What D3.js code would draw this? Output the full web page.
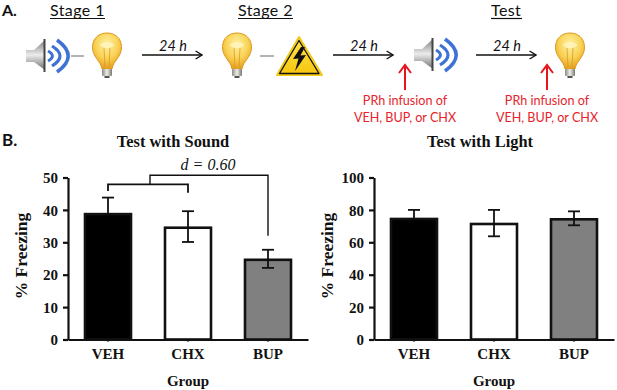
<!DOCTYPE html>
<html>
<head>
<meta charset="utf-8">
<script src="https://d3js.org/d3.v7.min.js"></script>
<style>
  html, body { margin:0; padding:0; background:#fff; }
  text { fill:#111; }
  .serif { font-family:"Liberation Serif", serif; font-weight:bold; }
  .sans { font-family:Lato, sans-serif; }
</style>
</head>
<body>
<div id="fig"></div>
<script>
var groups = ["VEH", "CHX", "BUP"];
var barColors = ["#000000", "#ffffff", "#808080"];

var soundMeans = [38.7, 34.5, 24.6];
var soundUpper = [43.8, 39.6, 27.7];
var soundLower = [38.7, 30.1, 22.1];
var soundTicks = [0, 10, 20, 30, 40, 50];

var lightMeans = [74.4, 71.3, 74.2];
var lightUpper = [80, 80, 79.1];
var lightLower = [74.4, 63.7, 70.5];
var lightTicks = [0, 20, 40, 60, 80, 100];

var fullWidth = 617;
var fullHeight = 390;

var svg = d3.select("#fig")
  .append("svg")
  .attr("width", fullWidth)
  .attr("height", fullHeight)
  .style("display", "block");

var defs = svg.append("defs");

var bulbGrad = defs.append("radialGradient").attr("id", "bulbGrad")
  .attr("cx", "0.5").attr("cy", "0.32").attr("r", "0.7");
bulbGrad.append("stop").attr("offset", "0").attr("stop-color", "#fff2a6");
bulbGrad.append("stop").attr("offset", "0.55").attr("stop-color", "#f9d255");
bulbGrad.append("stop").attr("offset", "1").attr("stop-color", "#e39a1c");

var baseGrad = defs.append("linearGradient").attr("id", "baseGrad");
baseGrad.append("stop").attr("offset", "0").attr("stop-color", "#8a8a86");
baseGrad.append("stop").attr("offset", "0.5").attr("stop-color", "#efefe8");
baseGrad.append("stop").attr("offset", "1").attr("stop-color", "#77776f");

var coneGrad = defs.append("linearGradient").attr("id", "coneGrad")
  .attr("x1", "0").attr("x2", "0").attr("y1", "0").attr("y2", "1");
coneGrad.append("stop").attr("offset", "0").attr("stop-color", "#7d7d7d");
coneGrad.append("stop").attr("offset", "0.5").attr("stop-color", "#ececec");
coneGrad.append("stop").attr("offset", "1").attr("stop-color", "#6f6f6f");

var triGrad = defs.append("linearGradient").attr("id", "triGrad")
  .attr("x1", "0").attr("x2", "0").attr("y1", "0").attr("y2", "1");
triGrad.append("stop").attr("offset", "0").attr("stop-color", "#ffe84a");
triGrad.append("stop").attr("offset", "1").attr("stop-color", "#f6c50f");

var arrowHead = defs.append("marker").attr("id", "head")
  .attr("viewBox", "0 0 10 12").attr("refX", 9).attr("refY", 6)
  .attr("markerWidth", 8).attr("markerHeight", 10)
  .attr("markerUnits", "userSpaceOnUse").attr("orient", "auto");
arrowHead.append("path").attr("d", "M1,1 L9,6 L1,11")
  .attr("fill", "none").attr("stroke", "#111").attr("stroke-width", 1.6);

function drawBulb(cx) {
  var g = svg.append("g").attr("transform", "translate(" + cx + ",33)");
  g.append("path")
    .attr("d", "M-5,36 C-6,28 -15,24 -14.5,13.5 C-14,5 -8,0 0,0 C8,0 14,5 14.5,13.5 C15,24 6,28 5,36 Z")
    .attr("fill", "url(#bulbGrad)").attr("stroke", "#dd9a1e").attr("stroke-width", 1);
  g.append("ellipse").attr("cx", 0).attr("cy", 12).attr("rx", 7).attr("ry", 3)
    .attr("fill", "#fff6c4").attr("opacity", 0.75);
  g.append("path").attr("d", "M-3,15 L-2,34 M3,15 L2,34")
    .attr("stroke", "#d9921a").attr("stroke-width", 0.7).attr("fill", "none");
  g.append("rect").attr("x", -5).attr("y", 36).attr("width", 10).attr("height", 7)
    .attr("rx", 1).attr("fill", "url(#baseGrad)");
  g.append("rect").attr("x", -2.5).attr("y", 43).attr("width", 5).attr("height", 2)
    .attr("fill", "#55554f");
}

function drawSpeaker(x, y) {
  var g = svg.append("g").attr("transform", "translate(" + x + "," + y + ")");
  g.append("path").attr("d", "M0,11 L8,11 L19,1 L19,31 L8,23 L0,23 Z")
    .attr("fill", "url(#coneGrad)");
  g.append("path").attr("d", "M18.5,0 L18.5,33")
    .attr("stroke", "#444").attr("stroke-width", 2);
  g.selectAll(".wave")
    .data([[22, 11, 5.5, 3], [26, 6, 10, 3.2], [31, 0, 14, 3.6]])
    .enter().append("path")
    .attr("d", function(d) {
      return "M" + d[0] + "," + (d[1] + 1) + " Q" + (d[0] + d[2] * 1.6) + ",17 " + d[0] + "," + (33 - d[1]);
    })
    .attr("fill", "none").attr("stroke", "#3f72d6").attr("stroke-width", function(d) { return d[3]; });
}

function drawArrow(x1, x2, y) {
  svg.append("line").attr("x1", x1).attr("x2", x2).attr("y1", y).attr("y2", y)
    .attr("stroke", "#111").attr("stroke-width", 1.5).attr("marker-end", "url(#head)");
  svg.append("text").attr("class", "sans").attr("x", (x1 + x2) / 2 + 1).attr("y", y - 4)
    .attr("text-anchor", "middle").attr("font-size", 14.5).attr("font-style", "italic").text("24 h");
}

function drawStage(label, x, w) {
  svg.append("text").attr("class", "sans").attr("x", x).attr("y", 16)
    .attr("font-size", 16).attr("letter-spacing", 0.4).text(label);
  svg.append("line").attr("x1", x).attr("x2", x + w).attr("y1", 18.5).attr("y2", 18.5)
    .attr("stroke", "#111").attr("stroke-width", 1.2);
}

function drawInfusion(x) {
  svg.append("line").attr("x1", x).attr("x2", x).attr("y1", 90).attr("y2", 67)
    .attr("stroke", "#e8141c").attr("stroke-width", 2);
  svg.append("path").attr("d", "M" + (x - 6) + ",73 L" + x + ",65 L" + (x + 6) + ",73")
    .attr("fill", "none").attr("stroke", "#e8141c").attr("stroke-width", 2);
  ["PRh infusion of", "VEH, BUP, or CHX"].forEach(function(t, i) {
    svg.append("text").attr("class", "sans").attr("x", x).attr("y", 105 + i * 16.5)
      .attr("text-anchor", "middle").attr("font-size", 12.6).style("fill", "#e8232b").text(t);
  });
}

// panel A
svg.append("text").attr("class", "sans").attr("x", 2).attr("y", 16)
  .attr("font-size", 16).attr("font-weight", "bold").text("A.");
drawStage("Stage 1", 50, 55);
drawStage("Stage 2", 238, 55);
drawStage("Test", 491, 31);

drawSpeaker(26, 39);
drawBulb(107);
drawBulb(237);
drawSpeaker(414, 38);
drawBulb(570);

[[71, 84], [260, 274]].forEach(function(d) {
  svg.append("line").attr("x1", d[0]).attr("x2", d[1]).attr("y1", 56).attr("y2", 56)
    .attr("stroke", "#8a8a8a").attr("stroke-width", 1.3);
});

// warning triangle
svg.append("path").attr("d", "M299,37 L322,75 L277,75 Z")
  .attr("fill", "url(#triGrad)").attr("stroke", "#f3c81a").attr("stroke-width", 2).attr("stroke-linejoin", "round");
svg.append("path").attr("d", "M299,40.5 L319,73.5 L279.5,73.5 Z")
  .attr("fill", "none").attr("stroke", "#111").attr("stroke-width", 1.3).attr("stroke-linejoin", "round");
svg.append("path").attr("d", "M301,47 L293,59 L298.5,58.5 L295,71 L306,55 L300.5,55.5 L305,47 Z").attr("fill", "#111");

drawArrow(142, 202, 55);
drawArrow(333, 393, 55);
drawArrow(476, 536, 55);
drawInfusion(405);
drawInfusion(547);

// panel B
svg.append("text").attr("class", "sans").attr("x", 2).attr("y", 146)
  .attr("font-size", 17).attr("font-weight", "bold").text("B.");

function drawPanel(o) {
  var yScale = d3.scaleLinear().domain([0, o.max]).range([339.5, 177.5]);
  var xScale = d3.scaleBand().domain(groups)
    .range([o.left, o.left + 240]).paddingInner(0.425).paddingOuter(0.2125);
  var center = function(d) { return xScale(d) + xScale.bandwidth() / 2; };

  svg.append("g").selectAll("rect")
    .data(groups).enter().append("rect")
    .attr("x", function(d) { return xScale(d); })
    .attr("y", function(d, i) { return yScale(o.means[i]); })
    .attr("width", xScale.bandwidth())
    .attr("height", function(d, i) { return yScale(0) - yScale(o.means[i]); })
    .attr("fill", function(d, i) { return barColors[i]; })
    .attr("stroke", "#111").attr("stroke-width", 2.6);

  var err = svg.append("g").attr("stroke", "#111").attr("stroke-width", 1.8).attr("fill", "none");
  groups.forEach(function(d, i) {
    err.append("line").attr("x1", center(d)).attr("x2", center(d))
      .attr("y1", yScale(o.upper[i])).attr("y2", yScale(o.lower[i]));
    err.append("line").attr("x1", center(d) - 6).attr("x2", center(d) + 6)
      .attr("y1", yScale(o.upper[i])).attr("y2", yScale(o.upper[i]));
    err.append("line").attr("x1", center(d) - 6).attr("x2", center(d) + 6)
      .attr("y1", yScale(o.lower[i])).attr("y2", yScale(o.lower[i]));
  });

  var yAxis = d3.axisLeft(yScale).tickValues(o.ticks).tickSize(5).tickSizeOuter(0).tickPadding(5);
  var yg = svg.append("g").attr("transform", "translate(" + o.left + ",0)").call(yAxis);
  yg.selectAll("line, path").attr("stroke", "#111").attr("stroke-width", 2.2);
  yg.selectAll("text").attr("class", "serif").attr("font-size", 15).attr("dy", "0.34em");

  var xAxis = d3.axisBottom(xScale).tickSize(2).tickSizeOuter(0).tickPadding(7);
  var xg = svg.append("g").attr("transform", "translate(0,339.5)").call(xAxis);
  xg.selectAll("line, path").attr("stroke", "#111").attr("stroke-width", 2.2);
  xg.selectAll("text").attr("class", "serif").attr("font-size", 15);

  svg.append("text").attr("class", "serif").attr("x", o.titleX).attr("y", 147)
    .attr("text-anchor", "middle").attr("font-size", 16.4).text(o.title);
  svg.append("text").attr("class", "serif").attr("x", center("CHX")).attr("y", 386)
    .attr("text-anchor", "middle").attr("font-size", 15).text("Group");
  svg.append("text").attr("class", "serif")
    .attr("transform", "translate(" + (o.left - 41) + ",256) rotate(-90)")
    .attr("text-anchor", "middle").attr("font-size", 17.5).text("% Freezing");

  return { x: center, y: yScale };
}

var sound = drawPanel({ left: 68, max: 50, means: soundMeans, upper: soundUpper, lower: soundLower,
  ticks: soundTicks, title: "Test with Sound", titleX: 173 });
var light = drawPanel({ left: 374, max: 100, means: lightMeans, upper: lightUpper, lower: lightLower,
  ticks: lightTicks, title: "Test with Light", titleX: 480 });

// comparison brackets on the sound panel
var midX = 150;
svg.append("path")
  .attr("d", "M" + sound.x("VEH") + "," + sound.y(45.8) + " V" + sound.y(47.9) + " H" + sound.x("CHX") + " V" + sound.y(45.3))
  .attr("fill", "none").attr("stroke", "#111").attr("stroke-width", 1.8);
svg.append("path")
  .attr("d", "M" + midX + "," + sound.y(47.9) + " V" + sound.y(50.7) + " H" + sound.x("BUP") + " V" + sound.y(32))
  .attr("fill", "none").attr("stroke", "#111").attr("stroke-width", 1.4);
svg.append("text").attr("x", 208).attr("y", 170).attr("text-anchor", "middle")
  .attr("font-family", "Liberation Serif, serif").attr("font-style", "italic").attr("font-size", 16)
  .text("d = 0.60");
</script>
</body>
</html>
